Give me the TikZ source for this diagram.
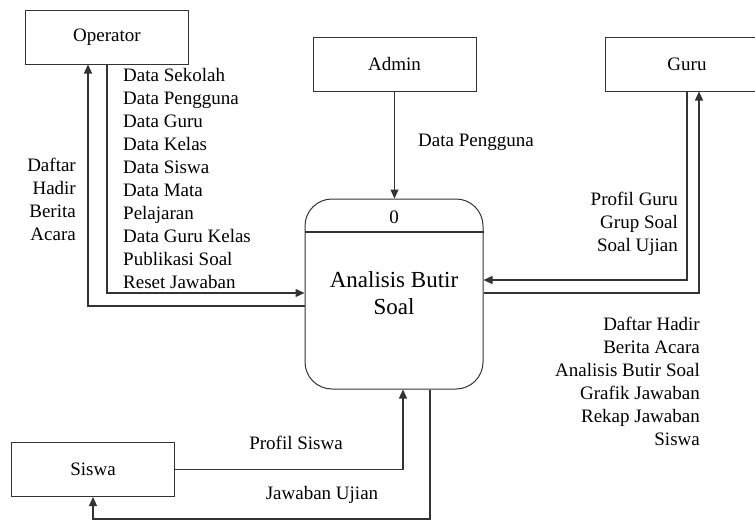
\documentclass[tikz,border=0pt]{standalone}
\usepackage{fontspec}
\setmainfont{Liberation Serif}
\newfontfamily\huruf{Liberation Serif}
\usetikzlibrary{arrows.meta, positioning, calc}

\begin{document}
\begin{tikzpicture}[
    x=1pt, y=-1pt,
    entitas/.style={draw=black!80, line width=1pt, minimum width=163pt, minimum height=54pt, inner sep=0pt, font=\huruf\fontsize{19}{23}\selectfont},
    proses/.style={draw=black!80, line width=1pt, rounded corners=27pt, minimum width=178pt, minimum height=190pt, inner sep=0pt},
    teks/.style={inner sep=0pt, font=\huruf\fontsize{19}{23}\selectfont},
    alur/.style={draw=black!80, line width=1.1pt, -{Triangle[length=9pt,width=8pt]}},
    garis/.style={draw=black!80, line width=1.1pt}
]
    \clip (0,0) rectangle (755,520);

    \node[entitas] (operator) at (107,37) {Operator};
    \node[entitas] (admin) at (394.5,64) {Admin};
    \node[entitas] (guru) at (687,64) {Guru};
    \node[entitas] (siswa) at (93,469.5) {Siswa};
    \node[proses] (proses) at (394,294) {};
    \node[teks] (nomor) at (394,217) {0};
    \node[teks, align=center, font=\huruf\fontsize{23}{27}\selectfont] (judul) at (394,293.5) {Analisis Butir\\Soal};
    \draw[garis] (proses.west |- 0,232) -- (proses.east |- 0,232);

    \node[teks, anchor=west, align=left] (dataoperator) at (123,178) {Data Sekolah\\Data Pengguna\\Data Guru\\Data Kelas\\Data Siswa\\Data Mata\\Pelajaran\\Data Guru Kelas\\Publikasi Soal\\Reset Jawaban};
    \node[teks, anchor=east, align=right] (laporanoperator) at (76,199) {Daftar\\Hadir\\Berita\\Acara};
    \node[teks, anchor=west] (dataadmin) at (418,142) {Data Pengguna};
    \node[teks, anchor=east, align=right] (dataguru) at (678,224) {Profil Guru\\Grup Soal\\Soal Ujian};
    \node[teks, anchor=east, align=right] (laporanguru) at (700,381) {Daftar Hadir\\Berita Acara\\Analisis Butir Soal\\Grafik Jawaban\\Rekap Jawaban\\Siswa};
    \node[teks] (datasiswa) at (296,443) {Profil Siswa};
    \node[teks] (jawabansiswa) at (322,495) {Jawaban Ujian};

    \draw[alur] (operator.south) |- (proses.west |- 0,293);
    \draw[alur] (proses.west |- 0,306) -| ([xshift=-19pt]operator.south);
    \draw[alur] (admin.south) -- (admin.south |- proses.north);
    \draw[alur] (guru.south) |- (proses.east |- 0,280);
    \draw[alur] (proses.east |- 0,293) -| ([xshift=12pt]guru.south);
    \draw[alur] (siswa.east) -| ([xshift=9pt]proses.south);
    \draw[alur] ([xshift=36pt]proses.south) -- ++(0,129.5) -| (siswa.south);
\end{tikzpicture}
\end{document}
